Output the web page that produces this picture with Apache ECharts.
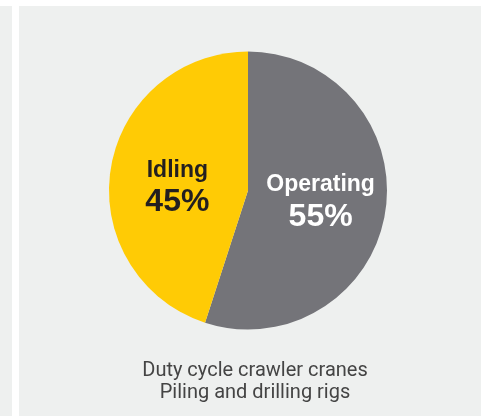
<!DOCTYPE html>
<html><head><meta charset="utf-8">
<script src="https://cdn.jsdelivr.net/npm/echarts@6/dist/echarts.min.js"></script>
<style>html,body{margin:0;padding:0;background:#fff}#c{width:489px;height:416px}</style>
</head><body><div id="c"></div>
<script>
const categories = ['Operating', 'Idling'];
const values = [55, 45];
const colors = ['#747479', '#FFCB05'];
const captionLines = ['Duty cycle crawler cranes', 'Piling and drilling rigs'];

const chart = echarts.init(document.getElementById('c'), null, {renderer: 'canvas'});
const labelStyles = [
  {color: '#ffffff', offset: [1, 0]},
  {color: '#231f20', offset: [1, 8]}
];
chart.setOption({
  backgroundColor: '#ffffff',
  animation: false,
  graphic: [
    {type: 'rect', shape: {x: 0, y: 6, width: 12, height: 410}, style: {fill: '#eef0ef'}, z: -10},
    {type: 'rect', shape: {x: 19, y: 6, width: 462, height: 410}, style: {fill: '#eef0ef'}, z: -10}
  ],
  title: {
    text: captionLines.join('\n'),
    left: 250, top: 355, textAlign: 'center',
    textStyle: {fontFamily: 'Roboto, sans-serif', fontSize: 20, fontWeight: 'normal', color: '#444444', lineHeight: 22}
  },
  series: [{
    type: 'pie',
    center: [248, 190.5],
    radius: [0, 139],
    startAngle: 90,
    clockwise: true,
    silent: true,
    itemStyle: {borderWidth: 0},
    labelLine: {show: false},
    data: categories.map((n, i) => ({
      name: n, value: values[i],
      itemStyle: {color: colors[i]},
      label: {
        show: true, position: 'inside', offset: labelStyles[i].offset,
        formatter: '{a|{b}}\n{p|{d}%}',
        rich: {
          a: {fontFamily: 'Arial, "Liberation Sans", sans-serif', fontWeight: 'bold', fontSize: 23, lineHeight: 30, color: labelStyles[i].color, align: 'center'},
          p: {fontFamily: 'Arial, "Liberation Sans", sans-serif', fontWeight: 'bold', fontSize: 32, lineHeight: 34, color: labelStyles[i].color, align: 'center'}
        }
      }
    }))
  }]
});
</script></body></html>
